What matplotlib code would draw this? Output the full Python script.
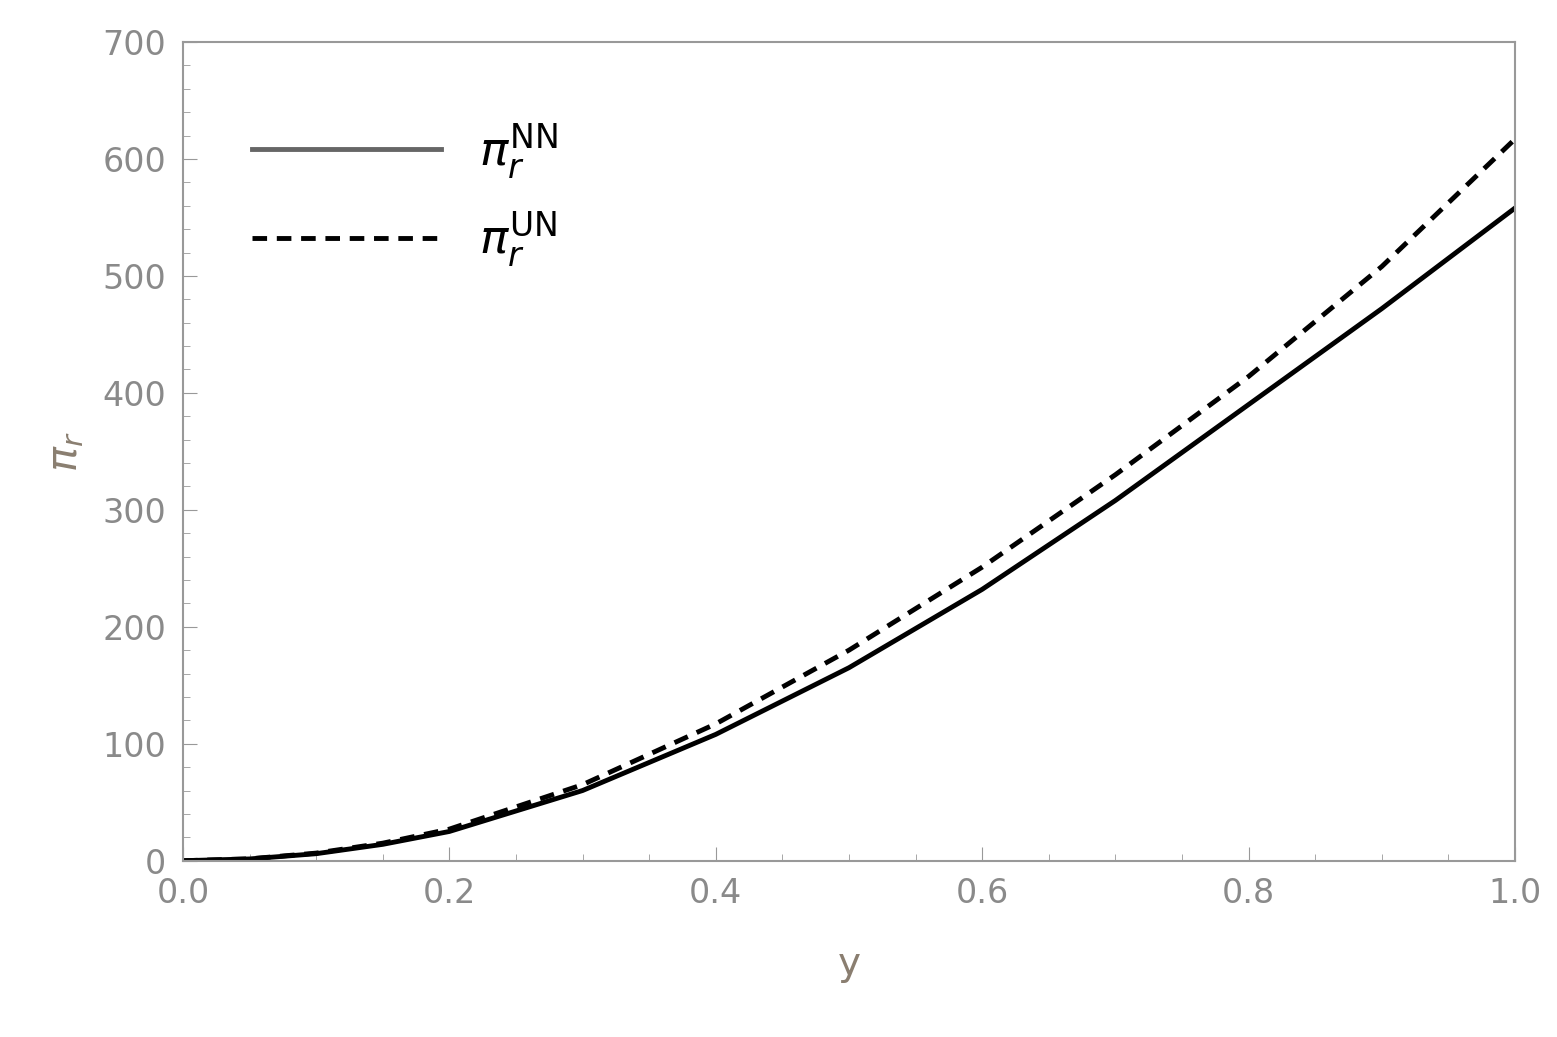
import numpy as np
import matplotlib.pyplot as plt
from matplotlib.ticker import MultipleLocator

y_vals = [0.0, 0.05, 0.1, 0.15, 0.2, 0.3, 0.4, 0.5, 0.6, 0.7, 0.8, 0.9, 1.0]
pi_nn = [0, 1.5, 6, 14, 25, 60, 108, 165, 232, 308, 390, 472, 558]
pi_un = [0, 1.6, 6.5, 15, 27, 65, 117, 180, 251, 330, 414, 508, 617]

fig = plt.figure(figsize=(15.57, 10.37), dpi=100)
ax = fig.add_axes([0.1175, 0.17, 0.8555, 0.7895])

ax.plot(y_vals, pi_nn, color='black', lw=3.5, label=r'$\pi_r^{\mathrm{NN}}$')
ax.plot(y_vals, pi_un, color='black', lw=3.5, ls=(0, (3, 2)), label=r'$\pi_r^{\mathrm{UN}}$')

ax.set_xlim(0, 1)
ax.set_ylim(0, 700)
ax.xaxis.set_major_locator(MultipleLocator(0.2))
ax.xaxis.set_minor_locator(MultipleLocator(0.05))
ax.yaxis.set_major_locator(MultipleLocator(100))
ax.yaxis.set_minor_locator(MultipleLocator(20))
ax.xaxis.set_major_formatter(plt.FuncFormatter(lambda v, p: f'{v:.1f}'))
ax.tick_params(which='both', direction='in', color='#999999', top=False, right=False)
ax.tick_params(which='major', length=10, labelsize=24, labelcolor='#8a8a8a', pad=12)
ax.tick_params(which='minor', length=5)
for s in ax.spines.values():
    s.set_color('#999999')
    s.set_linewidth(1.5)

ax.set_xlabel('y', fontsize=28, color='#8a7e70', labelpad=25)
ax.set_ylabel(r'$\pi_r$', fontsize=30, color='#8a7e70', labelpad=12)

leg = ax.legend(loc='upper left', bbox_to_anchor=(0.02, 0.955), frameon=False,
                fontsize=34, handlelength=4, labelspacing=0.6)
leg.get_lines()[0].set_color('#666666')

fig.savefig('out.png', dpi=100)
